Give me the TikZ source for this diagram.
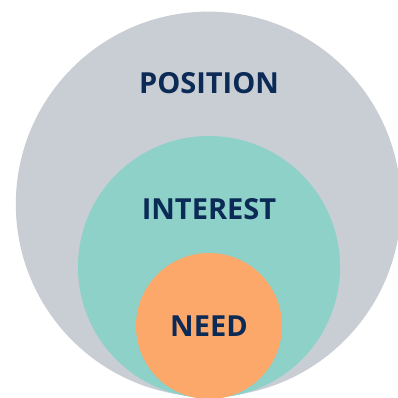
\documentclass[tikz,border=0pt]{standalone}
\usepackage{fontspec}
\setmainfont{Open Sans}
\definecolor{greyc}{HTML}{C9CDD4}
\definecolor{tealc}{HTML}{8DD1C8}
\definecolor{orangec}{HTML}{FBA86A}
\definecolor{navy}{HTML}{0B2A55}
\begin{document}
\begin{tikzpicture}[x=1pt,y=-1pt,
  lbl/.style={text=navy,font=\fontsize{29}{32}\selectfont\bfseries,inner sep=0pt,anchor=center}]
\useasboundingbox (0,0) rectangle (398,397);
\clip (0,0) rectangle (398,397);
\fill[greyc] (208.4,204.2) circle[radius=192.6];
\fill[tealc] (209,267) circle[radius=131];
\fill[orangec] (209,326) circle[radius=73];
\node[lbl] (pos) at (209,83.3) {\vphantom{I}POSITION};
\node[lbl] (int) at (209,209.3) {\vphantom{I}INTEREST};
\node[lbl] (need) at (209,326.3) {\vphantom{I}NEED};
\end{tikzpicture}
\end{document}
